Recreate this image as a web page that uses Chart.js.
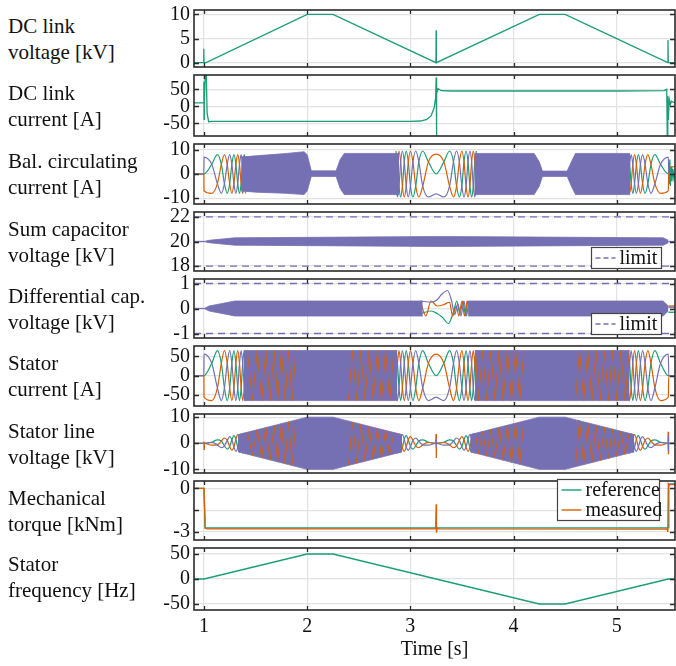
<!DOCTYPE html>
<html>
<head>
<meta charset="utf-8">
<script src="https://cdn.jsdelivr.net/npm/chart.js@4/dist/chart.umd.min.js"></script>
<style>
  body { margin: 0; background: #fff; width: 676px; height: 666px; position: relative; overflow: hidden; }
  canvas { position: absolute; left: 0; }
  .lbl { position: absolute; left: 8px; font: 21px/26px "Liberation Serif", serif; color: #111; white-space: nowrap; }
</style>
</head>
<body>
<script>
// ---------- data ----------
const xTicks = [1, 2, 3, 4, 5];

// DC link voltage [kV]
const dcVoltT = [0.903, 0.996, 0.998, 1.000, 1.02, 2.00, 2.25, 3.248, 3.250, 3.252, 4.25, 4.50, 5.495, 5.497, 5.500, 5.565];
const dcVoltV = [0, 0, 2.9, 0, 0, 10, 10, 0, 6.7, 0, 10, 10, 0, 4.7, 0, 0];

// DC link current [A]
const dcCurT = [0.903, 0.998, 0.999, 1.001, 1.003, 1.012, 1.022, 1.030, 1.045, 1.08, 2.0, 3.0, 3.10, 3.16, 3.20, 3.23, 3.245, 3.250, 3.253, 3.256, 3.262, 3.27, 3.30, 3.4, 4.0, 5.0, 5.46, 5.485, 5.49, 5.495, 5.50, 5.51, 5.52, 5.53, 5.565];
const dcCurV = [10, 10, 72, -38, 10, 95, 95, -20, -45, -44, -44, -44, -43, -38, -28, -5, 25, 85, -90, 55, 45, 52, 46, 45, 45, 45, 46, 50, -90, 30, -40, 20, 5, 15, 10];

// time stamps of the resolved (slow) oscillations: start-up, speed reversal, stop
const waveTA = [0.903, 0.999, 1.000, 1.075, 1.130, 1.168, 1.198, 1.225, 1.249, 1.270, 1.290, 1.309, 1.327, 1.344, 1.360, 1.375, 1.390, 1.404];
const waveTB = [2.860, 2.875, 2.890, 2.906, 2.923, 2.941, 2.960, 2.980, 3.001, 3.025, 3.052, 3.082, 3.120, 3.175, 3.250,
                3.325, 3.380, 3.418, 3.448, 3.475, 3.499, 3.520, 3.540, 3.559, 3.577, 3.594, 3.610, 3.625, 3.640];
const waveTC = [5.110, 5.125, 5.140, 5.156, 5.173, 5.191, 5.210, 5.230, 5.251, 5.275, 5.302, 5.332, 5.370, 5.425, 5.500, 5.505, 5.565];
// visible streaks inside the fast (unresolved) parts
const streakT = [1.42, 1.47, 1.515, 1.56, 1.60, 1.64, 1.68, 1.715, 1.75, 1.785, 1.82, 1.855, 1.89, 1.95,
                 2.40, 2.44, 2.48, 2.52, 2.56, 2.60, 2.64, 2.68, 2.72, 2.76, 2.80, 2.84, 2.87,
                 3.63, 3.66, 3.70, 3.74, 3.78, 3.82, 3.86, 3.90, 3.94, 3.98, 4.02, 4.06, 4.10, 4.2,
                 4.60, 4.64, 4.68, 4.72, 4.76, 4.80, 4.84, 4.88, 4.92, 4.96, 5.00, 5.04, 5.08, 5.12];

// Balancing circulating current [A]
const circGA = [0, 0, 0, 4, 8, 4, -4, -8, -4, 4, 8, 4, -4, -8, -4, 4, 8, 4];
const circOA = [0, 0, -7, -8, -4, 4, 8, 4, -4, -8, -4, 4, 8, 4, -4, -8, -4, 4];
const circPA = [0, 0, 7, 4, -4, -8, -4, 4, 8, 4, -4, -8, -4, 4, 8, 4, -4, -8];
const circGB = [9.5, 5, -5, -9.5, -5, 5, 9.5, 5, -5, -9.5, -5, 5, 9.5, 5, 0, 5, 9.5, 5, -5, -9.5, -5, 5, 9.5, 5, -5, -9.5, -5, 5, 9.5];
const circOB = [-5, 5, 9.5, 5, -5, -9.5, -5, 5, 9.5, 5, -5, -9.5, -5, 5, 8.2, 5, -5, -9.5, -5, 5, 9.5, 5, -5, -9.5, -5, 5, 9.5, 5, -5];
const circPB = [-5, -9.5, -5, 5, 9.5, 5, -5, -9.5, -5, 5, 9.5, 5, -5, -9.5, -8.2, -9.5, -5, 5, 9.5, 5, -5, -9.5, -5, 5, 9.5, 5, -5, -9.5, -5];
const circGC = [8, 4, -4, -8, -4, 4, 8, 4, -4, -8, -4, 4, 8, 4, 0, 0, 0];
const circOC = [-4, -8, -4, 4, 8, 4, -4, -8, -4, 4, 8, 4, -4, -8, -7, 3, 3];
const circPC = [-4, 4, 8, 4, -4, -8, -4, 4, 8, 4, -4, -8, -4, 4, 7, 0, 0];
const circTailT = [5.5, 5.505, 5.51, 5.515, 5.52, 5.527, 5.535, 5.545, 5.555, 5.565];
const circTailG = [0, 5, -4, 6, -5, 3, -3, 2, -2, 0];
// envelope of the unresolved part
const circT  = [1.36, 1.5, 1.8, 1.97, 2.0, 2.04, 2.28, 2.32, 2.36, 2.7, 2.89, 3.2, 3.62, 3.9, 4.2, 4.25, 4.28, 4.52, 4.56, 4.6, 4.9, 5.13];
const circUp = [7, 7.5, 8.5, 9.2, 8, 1.3, 1.3, 6, 8.5, 8.5, 8.5, null, 8.5, 8.5, 8.5, 5, 1.2, 1.2, 5, 8.5, 8.5, 8.5];
const circLo = [-7, -7.5, -8, -8.5, -7, -1, -1, -6, -8.5, -8.5, -8.5, null, -8.5, -8.5, -8.5, -5, -1, -1, -5, -8.5, -8.5, -8.5];

// Sum capacitor voltage [kV]
const sumT  = [1.00, 1.05, 1.3, 3.2, 3.4, 5.45, 5.5];
const sumUp = [20, 20.1, 20.3, 20.4, 20.4, 20.3, 20.1];
const sumLo = [20, 19.9, 19.7, 19.6, 19.6, 19.7, 19.9];
const sumLimits = [18, 22];

// Differential capacitor voltage [kV]
const diffT  = [1.00, 1.05, 1.3, 3.12, 3.3, 3.56, 5.45, 5.5];
const diffUp = [0, 0.1, 0.3, 0.3, null, 0.3, 0.3, 0.1];
const diffLo = [0, -0.1, -0.3, -0.3, null, -0.3, -0.3, -0.1];
const diffPBt = [3.10, 3.20, 3.26, 3.30, 3.36, 3.40, 3.43, 3.46, 3.49, 3.52, 3.545, 3.565];
const diffPBv = [0.3, 0.25, 0.35, 0.55, 0.72, 0.3, -0.25, 0.2, -0.3, 0.3, -0.3, 0.3];
const diffGBt = [3.10, 3.20, 3.26, 3.31, 3.37, 3.42, 3.45, 3.48, 3.51, 3.535, 3.555, 3.575];
const diffGBv = [-0.2, -0.1, -0.2, -0.35, -0.6, -0.1, 0.3, -0.2, 0.3, -0.3, 0.3, -0.3];
const diffOBt = [3.10, 3.15, 3.20, 3.26, 3.32, 3.38, 3.41, 3.445, 3.47, 3.50, 3.525, 3.55];
const diffOBv = [0.25, -0.3, 0.3, 0.1, 0.15, 0.25, -0.3, 0.1, -0.3, 0.3, -0.3, 0.3];
const diffLimits = [-1, 1];

// Stator current [A]
const isGA = [0, 0, 0, 32, 65, 32, -32, -65, -32, 32, 65, 32, -32, -65, -32, 32, 65, 32];
const isOA = [0, 0, -56, -65, -32, 32, 65, 32, -32, -65, -32, 32, 65, 32, -32, -65, -32, 32];
const isPA = [0, 0, 56, 32, -32, -65, -32, 32, 65, 32, -32, -65, -32, 32, 65, 32, -32, -65];
const isGB = [65, 32, -32, -65, -32, 32, 65, 32, -32, -65, -32, 32, 65, 32, 0, 32, 65, 32, -32, -65, -32, 32, 65, 32, -32, -65, -32, 32, 65];
const isOB = [-32, 32, 65, 32, -32, -65, -32, 32, 65, 32, -32, -65, -32, 32, 56, 32, -32, -65, -32, 32, 65, 32, -32, -65, -32, 32, 65, 32, -32];
const isPB = [-32, -65, -32, 32, 65, 32, -32, -65, -32, 32, 65, 32, -32, -65, -56, -65, -32, 32, 65, 32, -32, -65, -32, 32, 65, 32, -32, -65, -32];
const isGC = [65, 32, -32, -65, -32, 32, 65, 32, -32, -65, -32, 32, 65, 32, 0, 0, 0];
const isOC = [-32, -65, -32, 32, 65, 32, -32, -65, -32, 32, 65, 32, -32, -65, -56, 0, 0];
const isPC = [-32, 32, 65, 32, -32, -65, -32, 32, 65, 32, -32, -65, -32, 32, 56, 0, 0];
const isStreakO = [65, -65, 65, -65, 65, -65, 65, -65, 65, -65, 65, -65, 65, null,
                   -65, 65, -65, 65, -65, 65, -65, 65, -65, 65, -65, 65, null,
                   65, -65, 65, -65, 65, -65, 65, -65, 65, -65, 65, -65, 65, null,
                   -65, 65, -65, 65, -65, 65, -65, 65, -65, 65, -65, 65, -65, 65];
const isBandT  = [1.385, 2.875, 3.2, 3.625, 5.125];
const isBandUp = [65, 65, null, 65, 65];
const isBandLo = [-65, -65, null, -65, -65];

// Stator line voltage [kV]
const vsGA = [0, 0, 0, 0.38, 1.3, 0.85, -1.0, -2.25, -1.25, 1.35, 2.9, 1.55, -1.65, -3.45, -1.8, 1.9, 3.9, 2.0];
const vsOA = [0, 0, 0, -0.75, -0.65, 0.85, 2.0, 1.1, -1.25, -2.7, -1.45, 1.55, 3.3, 1.7, -1.8, -3.75, -1.95, 2.0];
const vsPA = [0, 0, 0, 0.38, -0.65, -1.7, -1.0, 1.1, 2.5, 1.35, -1.45, -3.1, -1.65, 1.7, 3.6, 1.9, -1.95, -4.05];
const vsGB = [3.9, 1.88, -1.8, -3.45, -1.65, 1.55, 2.9, 1.35, -1.25, -2.25, -1.0, 0.85, 1.3, 0.38, 0,
              0.38, 1.3, 0.85, -1.0, -2.25, -1.25, 1.35, 2.9, 1.55, -1.65, -3.45, -1.8, 1.88, 3.9];
const vsOB = [-1.95, 1.88, 3.6, 1.73, -1.65, -3.1, -1.45, 1.35, 2.5, 1.13, -1.0, -1.7, -0.65, 0.38, 0,
              0.38, -0.65, -1.7, -1.0, 1.13, 2.5, 1.35, -1.45, -3.1, -1.65, 1.73, 3.6, 1.88, -1.95];
const vsPB = [-1.95, -3.75, -1.8, 1.73, 3.3, 1.55, -1.45, -2.7, -1.25, 1.13, 2.0, 0.85, -0.65, -0.75, 0,
              -0.75, -0.65, 0.85, 2.0, 1.13, -1.25, -2.7, -1.45, 1.55, 3.3, 1.73, -1.8, -3.75, -1.95];
const vsGC = [3.9, 1.88, -1.8, -3.45, -1.65, 1.55, 2.9, 1.35, -1.25, -2.25, -1.0, 0.85, 1.3, 0.38, 0, 0, 0];
const vsOC = [-1.95, -3.75, -1.8, 1.73, 3.3, 1.55, -1.45, -2.7, -1.25, 1.13, 2.0, 0.85, -0.65, -0.75, 0, 0, 0];
const vsPC = [-1.95, 1.88, 3.6, 1.73, -1.65, -3.1, -1.45, 1.35, 2.5, 1.13, -1.0, -1.7, -0.65, 0.38, 0, 0, 0];
const vsStreakO = [4.2, -4.7, 5.15, -5.6, 6.0, -6.4, 6.8, -7.15, 7.5, -7.85, 8.2, -8.55, 8.9, null,
                   -8.5, 8.1, -7.7, 7.3, -6.9, 6.5, -6.1, 5.7, -5.3, 4.9, -4.5, 4.1, null,
                   3.8, -4.1, 4.5, -4.9, 5.3, -5.7, 6.1, -6.5, 6.9, -7.3, 7.7, -8.1, 8.5, null,
                   -9.0, 8.6, -8.2, 7.8, -7.4, 7.0, -6.6, 6.2, -5.8, 5.4, -5.0, 4.6, -4.2, 3.8];
const vsSpikeOT = [0.998, 0.999, 1.001, 1.003, 1.1, 3.247, 3.249, 3.251, 3.253, 3.3, 5.497, 5.499, 5.501, 5.503];
const vsSpikeOV = [0, 0.7, -2.3, 0, null, 0, 3.5, -5.7, 0, null, 0, 4.4, -4.2, 0];
const vsSpikePT = [3.248, 3.250, 3.252, 3.254, 3.3, 5.498, 5.500, 5.502, 5.504];
const vsSpikePV = [0, 1.5, -1.5, 0, null, 0, 3, -3.2, 0];
const vsBandT  = [1.33, 2.0, 2.25, 2.92, 3.1, 3.58, 4.25, 4.5, 5.17];
const vsBandUp = [3.3, 10, 10, 3.3, null, 3.3, 10, 10, 3.3];
const vsBandLo = [-3.3, -10, -10, -3.3, null, -3.3, -10, -10, -3.3];

// Mechanical torque [kNm]
const trqRefT = [0.903, 1.0, 1.01, 5.5, 5.505, 5.565];
const trqRefV = [0, 0, -2.72, -2.72, 0.3, 0.3];
const trqMeasT = [0.903, 1.0, 1.012, 1.03, 3.245, 3.25, 3.253, 3.26, 3.28, 5.49, 5.495, 5.50, 5.505, 5.565];
const trqMeasV = [0, 0, -2.75, -2.78, -2.78, -1.1, -3.05, -2.75, -2.78, -2.8, -3.0, 0.3, 0.25, 0.25];

// Stator frequency [Hz]
const freqT = [0.903, 1.0, 2.0, 2.25, 4.25, 4.5, 5.5, 5.565];
const freqV = [0, 0, 50, 50, -50, -50, 0, 0];

// ---------- layout / style ----------
const GREEN = '#1b9e77', ORANGE = '#d95f02', PURPLE = '#7570b3';
const GRID = '#e2e2e2';
const FONT = { family: '"Liberation Serif", serif', size: 20 };
const X_MIN = 0.903, X_MAX = 5.565;

const panels = [
  { label: ['DC link', 'voltage [kV]'], top: 6, bottom: 71, min: -0.9, max: 10.9, ticks: [0, 5, 10] },
  { label: ['DC link', 'current [A]'], top: 71, bottom: 140, min: -87, max: 92, ticks: [-50, 0, 50] },
  { label: ['Bal. circulating', 'current [A]'], top: 140, bottom: 208, min: -12.4, max: 12.4, ticks: [-10, 0, 10] },
  { label: ['Sum capacitor', 'voltage [kV]'], top: 208, bottom: 275, min: 17.6, max: 22.4, ticks: [18, 20, 22] },
  { label: ['Differential cap.', 'voltage [kV]'], top: 275, bottom: 342, min: -1.18, max: 1.18, ticks: [-1, 0, 1] },
  { label: ['Stator', 'current [A]'], top: 342, bottom: 410, min: -79, max: 77, ticks: [-50, 0, 50] },
  { label: ['Stator line', 'voltage [kV]'], top: 410, bottom: 477, min: -11.4, max: 11.2, ticks: [-10, 0, 10] },
  { label: ['Mechanical', 'torque [kNm]'], top: 477, bottom: 544, min: -3.55, max: 0.5, ticks: [-3, -1.5, 0] },
  { label: ['Stator', 'frequency [Hz]'], top: 544, bottom: 610, min: -62, max: 62, ticks: [-50, 0, 50] },
];

const pts = (t, v) => t.map((x, i) => ({ x, y: v[i] }));
const line = (t, v, color, extra = {}) => ({
  data: pts(t, v), borderColor: color, borderWidth: 1.3, pointRadius: 0, fill: false, ...extra,
});
const wave = (t, v, color) => line(t, v, color, { cubicInterpolationMode: 'monotone', borderWidth: 1.2 });
const streak = (t, v, color) => line(t, v, color, { borderWidth: 0.8 });
const band = (t, up, lo, color) => [
  { data: pts(t, up), borderColor: color, borderWidth: 0.8, pointRadius: 0, backgroundColor: color, fill: '+1' },
  { data: pts(t, lo), borderColor: color, borderWidth: 0.8, pointRadius: 0, fill: false },
];
const hline = (v, color) => line([X_MIN, X_MAX], [v, v], color, { borderDash: [7, 5], borderWidth: 1.3 });

// box with inward ticks on all four sides
const framePlugin = {
  id: 'frame',
  afterDraw(chart) {
    const { ctx, chartArea: a, scales } = chart;
    ctx.save();
    ctx.strokeStyle = '#2b2b2b';
    ctx.lineWidth = 1.3;
    ctx.beginPath();
    scales.x.ticks.forEach(t => {
      const px = Math.round(scales.x.getPixelForValue(t.value)) + 0.5;
      ctx.moveTo(px, a.top); ctx.lineTo(px, a.top + 4);
      ctx.moveTo(px, a.bottom); ctx.lineTo(px, a.bottom - 4);
    });
    scales.y.ticks.forEach(t => {
      const py = Math.round(scales.y.getPixelForValue(t.value)) + 0.5;
      ctx.moveTo(a.left, py); ctx.lineTo(a.left + 5, py);
      ctx.moveTo(a.right, py); ctx.lineTo(a.right - 5, py);
    });
    ctx.stroke();
    ctx.lineWidth = 1.6;
    ctx.strokeRect(a.left, a.top, a.right - a.left, a.bottom - a.top);
    ctx.restore();
  },
};

// small framed legend inside the lower right corner
const boxLegend = {
  id: 'boxLegend',
  afterDraw(chart, args, opts) {
    if (!opts.items) return;
    const { ctx, chartArea: a } = chart;
    const rowH = 20;
    const w = opts.width, h = opts.items.length * rowH + 1;
    const x0 = Math.round(a.right - opts.right - w) + 0.5, y0 = Math.round(a.bottom - opts.bottom - h) + 0.5;
    ctx.save();
    ctx.fillStyle = '#fff';
    ctx.fillRect(x0, y0, w, h);
    ctx.strokeStyle = '#444';
    ctx.lineWidth = 1.2;
    ctx.strokeRect(x0, y0, w, h);
    ctx.font = '20px "Liberation Serif", serif';
    ctx.textBaseline = 'middle';
    opts.items.forEach((it, i) => {
      const cy = y0 + 0.5 + rowH * (i + 0.5);
      ctx.strokeStyle = it.color;
      ctx.lineWidth = 1.4;
      ctx.setLineDash(it.dash || []);
      ctx.beginPath(); ctx.moveTo(x0 + 4, cy); ctx.lineTo(x0 + 24, cy); ctx.stroke();
      ctx.setLineDash([]);
      ctx.fillStyle = '#111';
      ctx.fillText(it.text, x0 + 28, cy + 1);
    });
    ctx.restore();
  },
};

function makePanel(idx, datasets, legend = {}) {
  const p = panels[idx];
  const last = idx === panels.length - 1;
  const padTop = 12, padBot = last ? 0 : 12, xH = last ? 56 : 0;
  const h = p.bottom - p.top + padTop + padBot + xH;

  const lbl = document.createElement('div');
  lbl.className = 'lbl';
  lbl.style.top = ((p.top + p.bottom) / 2 - 26) + 'px';
  lbl.innerHTML = p.label.join('<br>');
  document.body.appendChild(lbl);

  const canvas = document.createElement('canvas');
  canvas.width = 676; canvas.height = h;
  canvas.style.top = (p.top - padTop) + 'px';
  document.body.appendChild(canvas);

  return new Chart(canvas, {
    type: 'line',
    data: { datasets },
    options: {
      responsive: false,
      animation: false,
      parsing: false,
      layout: { padding: { top: padTop, bottom: padBot, left: 0, right: 1 } },
      elements: { line: { tension: 0 } },
      scales: {
        x: {
          type: 'linear', min: X_MIN, max: X_MAX,
          afterBuildTicks: s => { s.ticks = xTicks.map(value => ({ value })); },
          afterFit: s => { s.height = xH; },
          grid: { color: GRID, lineWidth: 1.2, drawTicks: false },
          border: { display: false },
          ticks: { display: last, font: FONT, color: '#111', padding: 5, maxRotation: 0 },
          title: { display: last, text: 'Time [s]', font: FONT, color: '#111', padding: { top: 0, bottom: 4 } },
        },
        y: {
          type: 'linear', min: p.min, max: p.max,
          afterBuildTicks: s => { s.ticks = p.ticks.map(value => ({ value })); },
          afterFit: s => { s.width = 194; },
          grid: { color: GRID, lineWidth: 1.2, drawTicks: false },
          border: { display: false },
          ticks: { font: FONT, color: '#111', padding: 4, callback: v => (v === -1.5 ? '' : String(v)) },
        },
      },
      plugins: { legend: { display: false }, tooltip: { enabled: false }, boxLegend: legend },
    },
    plugins: [framePlugin, boxLegend],
  });
}

const limitLegend = bottom => ({ items: [{ text: 'limit', color: PURPLE, dash: [5, 3] }], width: 70, right: 14, bottom });

makePanel(0, [line(dcVoltT, dcVoltV, GREEN)]);
makePanel(1, [line(dcCurT, dcCurV, GREEN)]);
makePanel(2, [
  wave(waveTA, circPA, PURPLE), wave(waveTB, circPB, PURPLE), wave(waveTC, circPC, PURPLE),
  ...band(circT, circUp, circLo, PURPLE),
  wave(waveTA, circOA, ORANGE), wave(waveTB, circOB, ORANGE), wave(waveTC, circOC, ORANGE),
  wave(waveTA, circGA, GREEN), wave(waveTB, circGB, GREEN), wave(waveTC, circGC, GREEN),
  line(circTailT, circTailG, GREEN),
]);
makePanel(3, [
  hline(sumLimits[0], PURPLE), hline(sumLimits[1], PURPLE),
  ...band(sumT, sumUp, sumLo, PURPLE),
  line([X_MIN, 1.0], [20, 20], PURPLE), line([5.5, X_MAX], [20, 20], PURPLE),
], limitLegend(3));
makePanel(4, [
  hline(diffLimits[0], PURPLE), hline(diffLimits[1], PURPLE),
  wave(diffPBt, diffPBv, PURPLE),
  ...band(diffT, diffUp, diffLo, PURPLE),
  wave(diffOBt, diffOBv, ORANGE), wave(diffGBt, diffGBv, GREEN),
  line([X_MIN, 1.0], [0, 0], PURPLE),
  line([5.5, X_MAX], [0.05, 0.05], PURPLE), line([5.5, X_MAX], [0.1, 0.1], ORANGE), line([5.5, X_MAX], [-0.15, -0.15], GREEN),
], limitLegend(4));
makePanel(5, [
  wave(waveTA, isPA, PURPLE), wave(waveTB, isPB, PURPLE), wave(waveTC, isPC, PURPLE),
  streak(streakT, isStreakO, ORANGE),
  ...band(isBandT, isBandUp, isBandLo, PURPLE),
  wave(waveTA, isOA, ORANGE), wave(waveTB, isOB, ORANGE), wave(waveTC, isOC, ORANGE),
  wave(waveTA, isGA, GREEN), wave(waveTB, isGB, GREEN), wave(waveTC, isGC, GREEN),
]);
makePanel(6, [
  line(vsSpikePT, vsSpikePV, PURPLE),
  wave(waveTA, vsPA, PURPLE), wave(waveTB, vsPB, PURPLE), wave(waveTC, vsPC, PURPLE),
  streak(streakT, vsStreakO, ORANGE),
  ...band(vsBandT, vsBandUp, vsBandLo, PURPLE),
  line(vsSpikeOT, vsSpikeOV, ORANGE),
  wave(waveTA, vsOA, ORANGE), wave(waveTB, vsOB, ORANGE), wave(waveTC, vsOC, ORANGE),
  wave(waveTA, vsGA, GREEN), wave(waveTB, vsGB, GREEN), wave(waveTC, vsGC, GREEN),
]);
makePanel(7, [line(trqMeasT, trqMeasV, ORANGE), line(trqRefT, trqRefV, GREEN)],
  { items: [{ text: 'reference', color: GREEN }, { text: 'measured', color: ORANGE }], width: 102, right: 16, bottom: 20 });
makePanel(8, [line(freqT, freqV, GREEN)]);
</script>
</body>
</html>
